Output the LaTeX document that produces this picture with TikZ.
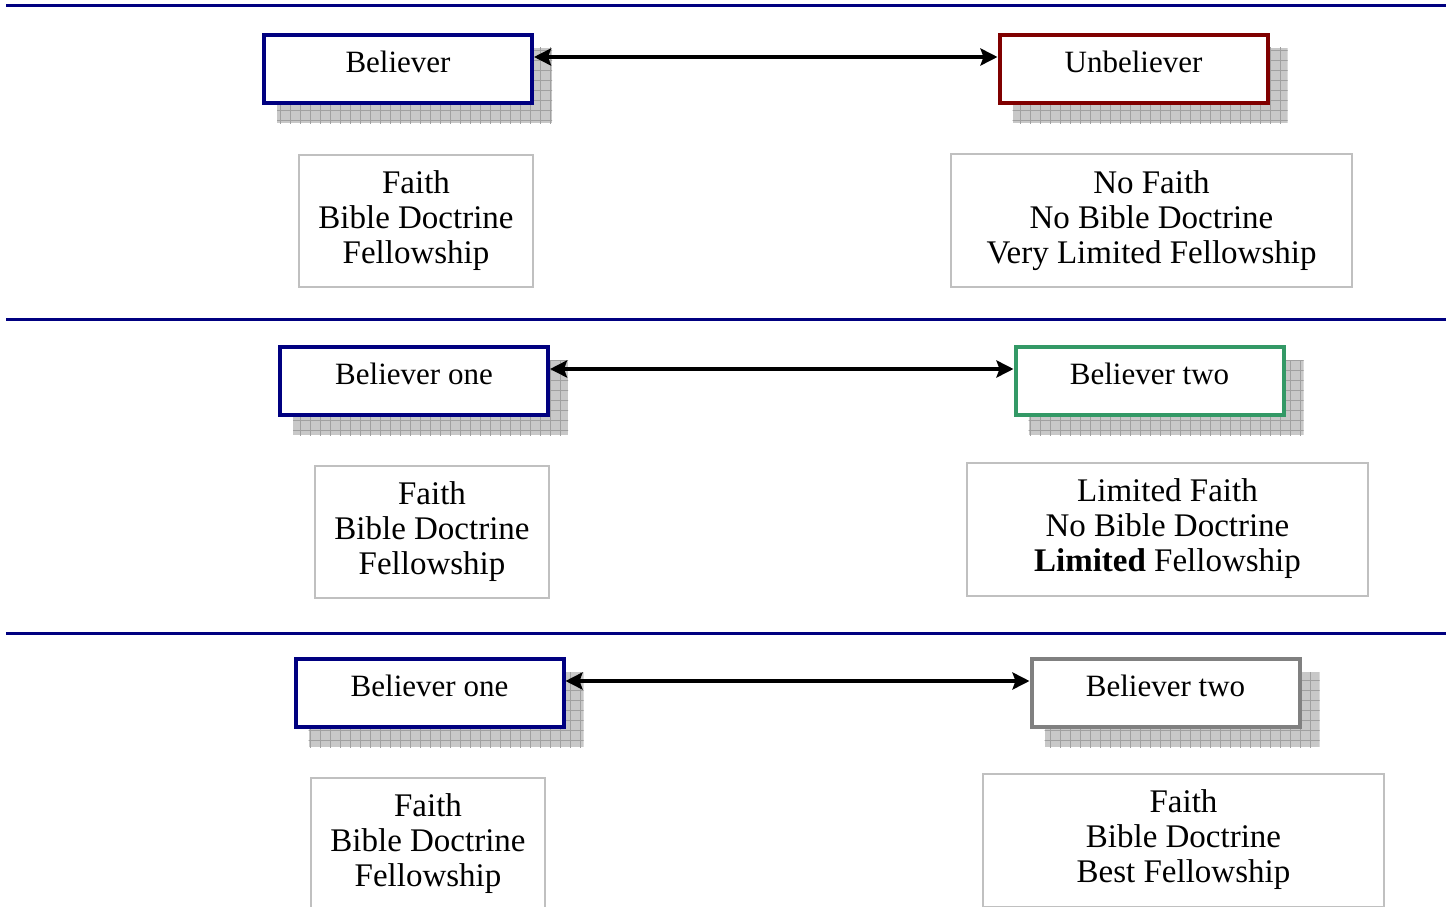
\documentclass[tikz,border=0pt]{standalone}
\usepackage{fontspec}
\setmainfont{Liberation Serif}
\usetikzlibrary{arrows.meta}
\pgfdeclarelayer{bg}
\pgfsetlayers{bg,main}
\definecolor{navyc}{RGB}{0,0,128}
\definecolor{redc}{RGB}{128,0,0}
\definecolor{greenc}{RGB}{51,153,102}
\definecolor{grayc}{RGB}{128,128,128}
\definecolor{lightc}{RGB}{192,192,192}
\definecolor{shadefillc}{RGB}{200,200,200}
\definecolor{shadegridc}{RGB}{160,160,160}
\newcommand\dropshade[1]{%
\begin{pgfonlayer}{bg}
\begin{scope}
\path[clip] ([shift={(15pt,-15pt)}]#1.north west) rectangle ([shift={(18pt,-18pt)}]#1.south east);
\fill[shadefillc] ([shift={(15pt,-15pt)}]#1.north west) rectangle ([shift={(18pt,-18pt)}]#1.south east);
\draw[shadegridc, line width=0.8pt, step=10pt] ([shift={(5pt,-5pt)}]#1.north west) grid ([shift={(30pt,-30pt)}]#1.south east);
\end{scope}
\end{pgfonlayer}}
\begin{document}
\begin{tikzpicture}[x=1pt,y=-1pt,
  labelbox/.style={draw, line width=4pt, fill=white, minimum width=268pt, minimum height=68pt,
    inner sep=0pt, font=\fontsize{31}{35}\selectfont, text height=21pt, text depth=14pt},
  infobox/.style={draw=lightc, line width=2pt, fill=white, inner sep=0pt, align=center,
    font=\fontsize{33}{35}\selectfont},
  narrowinfo/.style={infobox, minimum width=234pt, minimum height=132pt},
  wideinfo/.style={infobox, minimum width=401pt, minimum height=133pt},
  divider/.style={draw=navyc, line width=3pt},
  link/.style={draw=black, line width=4.5pt, {Stealth[length=17pt,width=17pt,inset=3pt]}-{Stealth[length=17pt,width=17pt,inset=3pt]}}
]
\useasboundingbox (0,0) rectangle (1452,907);
\clip (0,0) rectangle (1452,907);

% dividers
\coordinate (d1a) at (6,6);    \coordinate (d1b) at (1446,6);
\coordinate (d2a) at (6,319);  \coordinate (d2b) at (1446,319);
\coordinate (d3a) at (6,633);  \coordinate (d3b) at (1446,633);
\draw[divider] (d1a) -- (d1b);
\draw[divider] (d2a) -- (d2b);
\draw[divider] (d3a) -- (d3b);

% panel 1
\node[labelbox, draw=navyc] (b1) at (398,69) {Believer};
\node[labelbox, draw=redc] (u1) at (1133.5,69) {Unbeliever};
\dropshade{b1}\dropshade{u1}
\draw[link] ([yshift=12pt]b1.east) -- ([yshift=12pt]u1.west);
\node[narrowinfo] (t1a) at (416,221) {Faith\\Bible Doctrine\\Fellowship};
\node[wideinfo] (t1b) at (1151.5,220.5) {No Faith\\No Bible Doctrine\\Very Limited Fellowship};

% panel 2
\node[labelbox, draw=navyc] (b2) at (414,381) {Believer one};
\node[labelbox, draw=greenc] (u2) at (1149.5,381) {Believer two};
\dropshade{b2}\dropshade{u2}
\draw[link] ([yshift=12pt]b2.east) -- ([yshift=12pt]u2.west);
\node[narrowinfo] (t2a) at (432,532) {Faith\\Bible Doctrine\\Fellowship};
\node[wideinfo] (t2b) at (1167.5,529) {Limited Faith\\No Bible Doctrine\\\textbf{Limited} Fellowship};

% panel 3
\node[labelbox, draw=navyc] (b3) at (429.5,693) {Believer one};
\node[labelbox, draw=grayc] (u3) at (1165.5,693) {Believer two};
\dropshade{b3}\dropshade{u3}
\draw[link] ([yshift=12pt]b3.east) -- ([yshift=12pt]u3.west);
\node[narrowinfo] (t3a) at (428,844) {Faith\\Bible Doctrine\\Fellowship};
\node[wideinfo] (t3b) at (1183.5,840) {Faith\\Bible Doctrine\\Best Fellowship};
\end{tikzpicture}
\end{document}
